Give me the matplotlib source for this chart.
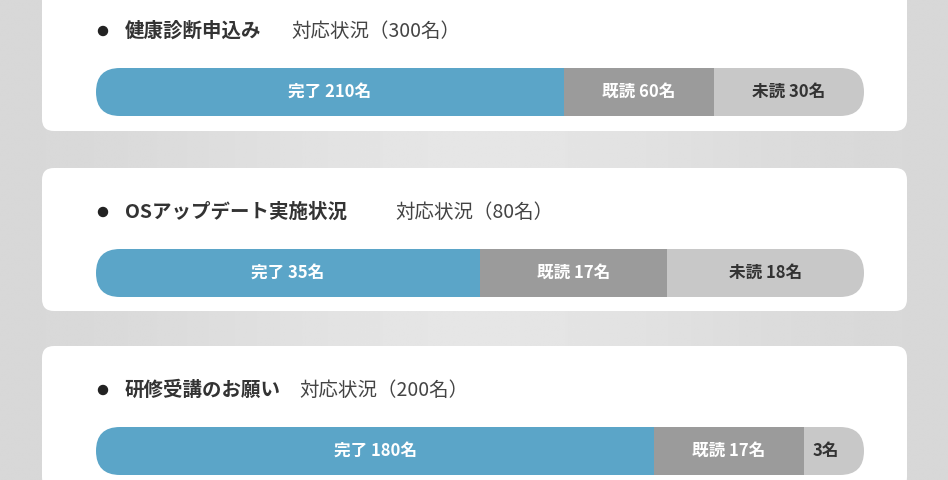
import matplotlib
matplotlib.use("Agg")
import matplotlib.pyplot as plt
from matplotlib.patches import FancyBboxPatch, Circle
import numpy as np

titles = ["健康診断申込み", "OSアップデート実施状況", "研修受講のお願い"]
totals = [300, 80, 200]
done = [210, 35, 180]
read = [60, 17, 17]
unread = [30, 18, 3]
seg_names = ["完了", "既読", "未読"]
colors = ["#5ba5c8", "#9b9b9b", "#c8c8c8"]
txtcol = ["white", "white", "#333333"]

plt.rcParams['font.family'] = ['Noto Sans CJK JP', 'DejaVu Sans']
fig = plt.figure(figsize=(9.48, 4.8), dpi=100)
ax = fig.add_axes([0, 0, 1, 1])
ax.set_xlim(0, 948); ax.set_ylim(480, 0); ax.axis('off')
g = np.linspace(0, 1, 256)
X, Y = np.meshgrid(g, g)
bg = 0.84 + 0.06 * np.exp(-((X - 0.5) ** 2) / 0.1)
ax.imshow(bg, cmap='gray', vmin=0, vmax=1, extent=[0, 948, 480, 0], aspect='auto', zorder=0)

BAR_W = 768
def layout(vals):
    # display widths: proportional, with a minimum width so labels fit
    vals = np.array(vals, float)
    mins = np.array([150.0 if (j < 2 or v / vals.sum() >= 0.05) else 60.0 for j, v in enumerate(vals)])
    w = vals / vals.sum() * BAR_W
    fixed = w < mins
    for _ in range(5):
        w = np.where(fixed, mins, 0)
        rest = BAR_W - w.sum()
        w = np.where(fixed, mins, vals / vals[~fixed].sum() * rest)
        fixed = fixed | (w < mins)
    return w

card_tops = [-12, 168, 346]
for i in range(3):
    top = card_tops[i]
    ax.add_patch(FancyBboxPatch((42, top), 865, 143, boxstyle="round,pad=0,rounding_size=12",
                                fc="white", ec="none", zorder=1))
    ty = top + 44 if i else 31
    ax.add_patch(Circle((103, ty), 4.5, color="#222222", zorder=2))
    t = ax.text(125, ty, titles[i], fontsize=14, fontweight='bold', color="#333333", va='center', zorder=3)
    fig.canvas.draw()
    bb = t.get_window_extent()
    x2 = bb.x1 + (48 if i == 1 else 30 if i == 0 else 18)
    ax.text(x2, ty, f"対応状況（{totals[i]}名）", fontsize=14, color="#444444", va='center', zorder=3,
            transform=matplotlib.transforms.blended_transform_factory(matplotlib.transforms.IdentityTransform(), ax.transData))
    by = ty + 61
    clip = FancyBboxPatch((96, by - 24), 768, 48, boxstyle="round,pad=0,rounding_size=24",
                          fc="none", ec="none", transform=ax.transData)
    ax.add_patch(clip)
    bax = fig.add_axes([96 / 948, 1 - (by + 24) / 480, 768 / 948, 48 / 480])
    bax.set_xlim(0, BAR_W); bax.set_ylim(-0.5, 0.5); bax.axis('off')
    vals = [done[i], read[i], unread[i]]
    widths = layout(vals)
    left = 0
    for j, (v, w) in enumerate(zip(vals, widths)):
        b = bax.barh(0, w, left=left, height=1, color=colors[j])
        for r in b:
            r.set_clip_path(clip)
        short = (j == 2 and v / sum(vals) < 0.05)
        lab = f"{v}名" if short else f"{seg_names[j]} {v}名"
        xc = left + w / 2 - (8 if short else 0)
        bax.text(xc, 0, lab, ha='center', va='center', fontsize=12, fontweight='bold', color=txtcol[j])
        left += w

fig.savefig("out.png", dpi=100)
